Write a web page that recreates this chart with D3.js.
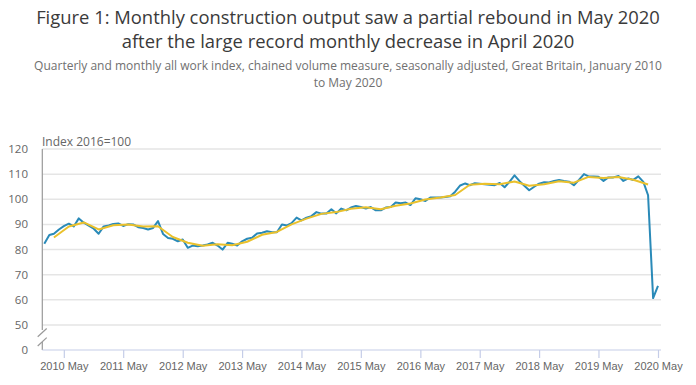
<!DOCTYPE html>
<html lang="en">
<head>
<meta charset="UTF-8">
<script src="https://d3js.org/d3.v7.min.js"></script>
<title>Construction output</title>
<style>
  body { margin: 0; background: #fff; font-family: "Open Sans", sans-serif; }
  .grid line { stroke: #e5e5e5; stroke-width: 1.5px; }
  .tick text { fill: #666; font-size: 11px; }
</style>
</head>
<body>
<script>
// monthly all work index, Jan 2010 - May 2020
var monthly = [
  82.3, 85.8, 86.3, 88.0, 89.3, 90.3, 89.2, 92.4, 90.7, 89.5, 88.3, 86.3,
  89.2, 89.6, 90.2, 90.4, 89.4, 90.1, 90.0, 88.9, 88.6, 88.0, 88.6, 91.3,
  86.2, 84.6, 84.3, 83.3, 84.0, 80.7, 81.6, 81.3, 81.6, 82.0, 82.7, 81.6,
  80.0, 82.7, 82.3, 81.6, 83.3, 84.3, 84.7, 86.4, 86.7, 87.3, 86.9, 86.9,
  90.0, 89.6, 90.5, 92.7, 91.6, 92.7, 93.3, 94.9, 94.3, 94.3, 96.0, 94.4,
  96.3, 95.6, 96.7, 97.3, 96.9, 96.3, 96.9, 95.6, 95.6, 96.7, 96.9, 98.7,
  98.4, 98.7, 97.7, 100.4, 100.0, 99.3, 100.7, 100.7, 100.7, 100.9, 101.2, 103.0,
  105.5, 106.3, 105.6, 106.4, 106.2, 106.0, 105.8, 105.6, 106.5, 104.8, 107.0, 109.5,
  107.2, 105.3, 103.6, 105.0, 106.2, 106.8, 106.7, 107.3, 107.7, 107.3, 107.0, 105.6,
  107.7, 110.0, 109.1, 109.1, 109.0, 107.3, 108.7, 108.7, 109.3, 107.3, 108.3, 107.7,
  109.1, 106.9, 101.6, 60.7, 65.6
];
// quarterly index, Q1 2010 - Q1 2020 (plotted at last month of quarter)
var quarterly = [
  84.8, 89.2, 90.8, 88.0, 89.7, 90.0, 89.2, 89.3, 85.0, 82.7, 81.5, 82.1,
  81.7, 83.1, 85.9, 87.0, 90.0, 92.3, 94.2, 94.9, 96.2, 96.8, 96.0, 97.4,
  98.3, 99.9, 100.7, 101.7, 105.8, 106.2, 106.0, 107.1, 105.4, 106.0, 107.2, 106.6,
  108.9, 108.5, 108.9, 107.8, 105.9
];
var yTicks = [50, 60, 70, 80, 90, 100, 110, 120];
var xTickYears = d3.range(2010, 2021);

var width = 696, height = 385;
var svg = d3.select("body").append("svg")
    .attr("width", width)
    .attr("height", height);

var monthDate = function(i) { return new Date(2010, i, 1); };

var x = d3.scaleTime()
    .domain([new Date(2010, 0, 1), new Date(2020, 4, 1)])
    .range([44.3, 658]);
var y = d3.scaleLinear().domain([50, 120]).range([325, 149]);
var axisLeft = 42.3, plotRight = 661, base = 350;

// titles
var title = svg.append("g").attr("text-anchor", "middle").attr("fill", "#3a3a3a");
title.append("text").attr("x", 348).attr("y", 24).style("font-size", "18.4px")
    .text("Figure 1: Monthly construction output saw a partial rebound in May 2020");
title.append("text").attr("x", 348).attr("y", 47.5).style("font-size", "18.4px")
    .text("after the large record monthly decrease in April 2020");
var sub = svg.append("g").attr("text-anchor", "middle").attr("fill", "#707070")
    .style("font-size", "12px");
sub.append("text").attr("x", 348).attr("y", 69.5)
    .text("Quarterly and monthly all work index, chained volume measure, seasonally adjusted, Great Britain, January 2010");
sub.append("text").attr("x", 348).attr("y", 86.5).text("to May 2020");

// gridlines
svg.append("g").attr("class", "grid")
  .selectAll("line")
  .data(yTicks)
  .enter().append("line")
    .attr("x1", axisLeft).attr("x2", plotRight)
    .attr("y1", function(d) { return y(d); })
    .attr("y2", function(d) { return y(d); });

// y labels
var yl = svg.append("g").attr("fill", "#666").style("font-size", "11.5px")
    .attr("text-anchor", "end");
yl.selectAll("text")
  .data(yTicks)
  .enter().append("text")
    .attr("x", 28)
    .attr("y", function(d) { return y(d); })
    .attr("dy", "0.35em")
    .text(function(d) { return d; });
yl.append("text").attr("x", 28).attr("y", base).attr("dy", "0.35em").text("0");

svg.append("text").attr("x", 42).attr("y", 146)
    .attr("fill", "#666").style("font-size", "12px")
    .text("Index 2016=100");

// y axis line with break
svg.append("line").attr("x1", axisLeft).attr("x2", axisLeft)
    .attr("y1", 149).attr("y2", 330).attr("stroke", "#999").attr("stroke-width", 1.2);
svg.append("line").attr("x1", axisLeft).attr("x2", axisLeft)
    .attr("y1", 342).attr("y2", base).attr("stroke", "#999").attr("stroke-width", 1.2);
svg.append("polygon")
    .attr("points", "46.7,328.5 37.7,336.8 37.7,346 46.7,337.6")
    .attr("fill", "#fff");
svg.append("line").attr("x1", 46.7).attr("y1", 328.5).attr("x2", 37.7).attr("y2", 336.8)
    .attr("stroke", "#999").attr("stroke-width", 1.2);
svg.append("line").attr("x1", 46.7).attr("y1", 337.6).attr("x2", 37.7).attr("y2", 346)
    .attr("stroke", "#999").attr("stroke-width", 1.2);

// x axis
var xAxis = d3.axisBottom(x)
    .tickValues(xTickYears.map(function(yr) { return new Date(yr, 4, 1); }))
    .tickFormat(function(d) { return d.getFullYear() + " May"; })
    .tickSizeOuter(0)
    .tickSize(8);
var gx = svg.append("g")
    .attr("transform", "translate(0," + base + ")")
    .call(xAxis);
gx.select(".domain").remove();
gx.selectAll(".tick line").attr("stroke", "#c5cde8").attr("stroke-width", 1.2);
gx.selectAll(".tick text").attr("dy", "1.1em").attr("y", 8);
svg.append("line").attr("x1", axisLeft).attr("x2", plotRight)
    .attr("y1", base).attr("y2", base).attr("stroke", "#c5cde8").attr("stroke-width", 1.2);

// lines
var line = d3.line()
    .x(function(d) { return x(d.date); })
    .y(function(d) { return y(d.value); });

var mData = monthly.map(function(v, i) { return {date: monthDate(i), value: v}; });
var qData = quarterly.map(function(v, i) { return {date: monthDate(i * 3 + 2), value: v}; });

svg.append("path").datum(mData)
    .attr("fill", "none").attr("stroke", "#2a8ab8").attr("stroke-width", 2)
    .attr("stroke-linejoin", "round")
    .attr("d", line);
svg.append("path").datum(qData)
    .attr("fill", "none").attr("stroke", "#eac12c").attr("stroke-width", 2)
    .attr("stroke-linejoin", "round")
    .attr("d", line);
</script>
</body>
</html>
